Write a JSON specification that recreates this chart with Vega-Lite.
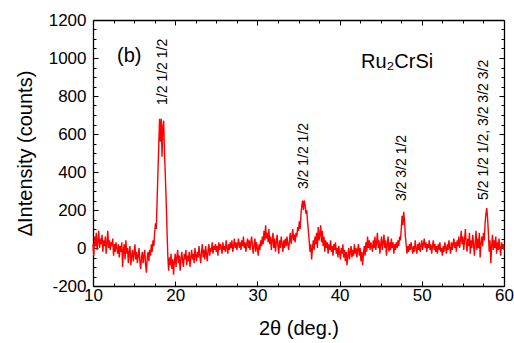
{
  "$schema": "https://vega.github.io/schema/vega-lite/v6.json",
  "width": 411,
  "height": 266,
  "autosize": {"type": "none"},
  "padding": {"left": 93, "top": 20, "right": 10, "bottom": 57},
  "config": {
    "view": {"stroke": null},
    "font": "Liberation Sans",
    "axis": {
      "domainColor": "black",
      "domainWidth": 1.3,
      "tickColor": "black",
      "tickWidth": 1,
      "grid": false,
      "labelFont": "Liberation Sans",
      "labelFontSize": 17,
      "labelColor": "black",
      "titleFont": "Liberation Sans",
      "titleFontSize": 20,
      "titleFontWeight": "normal",
      "titleColor": "black"
    }
  },
  "datasets": {
    "scan": [
      {"t":10.0,"i":20},{"t":10.1,"i":-40},{"t":10.2,"i":60},{"t":10.3,"i":10},{"t":10.4,"i":80},{"t":10.5,"i":-10},{"t":10.6,"i":40},{"t":10.7,"i":90},{"t":10.8,"i":0},{"t":10.9,"i":50},
      {"t":11.0,"i":20},{"t":11.1,"i":70},{"t":11.2,"i":-20},{"t":11.3,"i":40},{"t":11.4,"i":10},{"t":11.5,"i":60},{"t":11.6,"i":-30},{"t":11.7,"i":30},{"t":11.8,"i":90},{"t":11.9,"i":0},
      {"t":12.0,"i":40},{"t":12.1,"i":-10},{"t":12.2,"i":30},{"t":12.3,"i":10},{"t":12.4,"i":50},{"t":12.5,"i":-40},{"t":12.6,"i":20},{"t":12.7,"i":-20},{"t":12.8,"i":30},{"t":12.9,"i":0},
      {"t":13.0,"i":-30},{"t":13.1,"i":20},{"t":13.2,"i":-50},{"t":13.3,"i":10},{"t":13.4,"i":-20},{"t":13.5,"i":30},{"t":13.6,"i":-100},{"t":13.7,"i":-10},{"t":13.8,"i":20},{"t":13.9,"i":-60},
      {"t":14.0,"i":40},{"t":14.1,"i":-30},{"t":14.2,"i":0},{"t":14.3,"i":-80},{"t":14.4,"i":-20},{"t":14.5,"i":10},{"t":14.6,"i":-90},{"t":14.7,"i":-40},{"t":14.8,"i":-10},{"t":14.9,"i":-70},
      {"t":15.0,"i":-30},{"t":15.1,"i":20},{"t":15.2,"i":-60},{"t":15.3,"i":-20},{"t":15.4,"i":-80},{"t":15.5,"i":-40},{"t":15.6,"i":0},{"t":15.7,"i":-70},{"t":15.8,"i":-110},{"t":15.9,"i":-50},
      {"t":16.0,"i":-20},{"t":16.1,"i":-80},{"t":16.2,"i":-40},{"t":16.3,"i":-10},{"t":16.4,"i":-90},{"t":16.5,"i":-130},{"t":16.6,"i":-50},{"t":16.7,"i":-20},{"t":16.8,"i":-70},{"t":16.9,"i":-10},
      {"t":17.0,"i":-40},{"t":17.1,"i":20},{"t":17.2,"i":-20},{"t":17.3,"i":40},{"t":17.4,"i":10},{"t":17.5,"i":80},{"t":17.6,"i":130},{"t":17.7,"i":100},{"t":17.8,"i":250},{"t":17.9,"i":400},
      {"t":18.0,"i":540},{"t":18.1,"i":680},{"t":18.2,"i":560},{"t":18.3,"i":680},{"t":18.4,"i":480},{"t":18.5,"i":640},{"t":18.6,"i":670},{"t":18.7,"i":500},{"t":18.8,"i":380},{"t":18.9,"i":250},
      {"t":19.0,"i":100},{"t":19.1,"i":-40},{"t":19.2,"i":-120},{"t":19.3,"i":-50},{"t":19.4,"i":-90},{"t":19.5,"i":-30},{"t":19.6,"i":-110},{"t":19.7,"i":-60},{"t":19.8,"i":-140},{"t":19.9,"i":-70},
      {"t":20.0,"i":-30},{"t":20.1,"i":-100},{"t":20.2,"i":-50},{"t":20.3,"i":-10},{"t":20.4,"i":-80},{"t":20.5,"i":-40},{"t":20.6,"i":-120},{"t":20.7,"i":-60},{"t":20.8,"i":-20},{"t":20.9,"i":-70},
      {"t":21.0,"i":-100},{"t":21.1,"i":-30},{"t":21.2,"i":-60},{"t":21.3,"i":-10},{"t":21.4,"i":-90},{"t":21.5,"i":-40},{"t":21.6,"i":-70},{"t":21.7,"i":-20},{"t":21.8,"i":-100},{"t":21.9,"i":-50},
      {"t":22.0,"i":-10},{"t":22.1,"i":-60},{"t":22.2,"i":-30},{"t":22.3,"i":-80},{"t":22.4,"i":0},{"t":22.5,"i":-40},{"t":22.6,"i":-70},{"t":22.7,"i":-20},{"t":22.8,"i":-50},{"t":22.9,"i":10},
      {"t":23.0,"i":-40},{"t":23.1,"i":-80},{"t":23.2,"i":-20},{"t":23.3,"i":20},{"t":23.4,"i":-50},{"t":23.5,"i":-10},{"t":23.6,"i":-60},{"t":23.7,"i":10},{"t":23.8,"i":-30},{"t":23.9,"i":-70},
      {"t":24.0,"i":-10},{"t":24.1,"i":20},{"t":24.2,"i":-40},{"t":24.3,"i":0},{"t":24.4,"i":-20},{"t":24.5,"i":30},{"t":24.6,"i":-30},{"t":24.7,"i":10},{"t":24.8,"i":-10},{"t":24.9,"i":20},
      {"t":25.0,"i":-20},{"t":25.1,"i":10},{"t":25.2,"i":-40},{"t":25.3,"i":30},{"t":25.4,"i":-10},{"t":25.5,"i":20},{"t":25.6,"i":0},{"t":25.7,"i":-30},{"t":25.8,"i":30},{"t":25.9,"i":-10},
      {"t":26.0,"i":10},{"t":26.1,"i":-20},{"t":26.2,"i":40},{"t":26.3,"i":0},{"t":26.4,"i":-30},{"t":26.5,"i":20},{"t":26.6,"i":-10},{"t":26.7,"i":30},{"t":26.8,"i":0},{"t":26.9,"i":40},
      {"t":27.0,"i":-20},{"t":27.1,"i":10},{"t":27.2,"i":50},{"t":27.3,"i":0},{"t":27.4,"i":30},{"t":27.5,"i":-10},{"t":27.6,"i":20},{"t":27.7,"i":50},{"t":27.8,"i":0},{"t":27.9,"i":30},
      {"t":28.0,"i":-10},{"t":28.1,"i":40},{"t":28.2,"i":10},{"t":28.3,"i":60},{"t":28.4,"i":0},{"t":28.5,"i":30},{"t":28.6,"i":-20},{"t":28.7,"i":20},{"t":28.8,"i":50},{"t":28.9,"i":0},
      {"t":29.0,"i":40},{"t":29.1,"i":-10},{"t":29.2,"i":30},{"t":29.3,"i":60},{"t":29.4,"i":10},{"t":29.5,"i":-30},{"t":29.6,"i":20},{"t":29.7,"i":50},{"t":29.8,"i":-20},{"t":29.9,"i":30},
      {"t":30.0,"i":0},{"t":30.1,"i":-40},{"t":30.2,"i":20},{"t":30.3,"i":-10},{"t":30.4,"i":40},{"t":30.5,"i":10},{"t":30.6,"i":60},{"t":30.7,"i":20},{"t":30.8,"i":90},{"t":30.9,"i":40},
      {"t":31.0,"i":120},{"t":31.1,"i":50},{"t":31.2,"i":80},{"t":31.3,"i":30},{"t":31.4,"i":100},{"t":31.5,"i":20},{"t":31.6,"i":60},{"t":31.7,"i":-10},{"t":31.8,"i":40},{"t":31.9,"i":80},
      {"t":32.0,"i":0},{"t":32.1,"i":50},{"t":32.2,"i":-20},{"t":32.3,"i":30},{"t":32.4,"i":70},{"t":32.5,"i":10},{"t":32.6,"i":-30},{"t":32.7,"i":40},{"t":32.8,"i":0},{"t":32.9,"i":60},
      {"t":33.0,"i":20},{"t":33.1,"i":-20},{"t":33.2,"i":40},{"t":33.3,"i":0},{"t":33.4,"i":50},{"t":33.5,"i":10},{"t":33.6,"i":60},{"t":33.7,"i":20},{"t":33.8,"i":-10},{"t":33.9,"i":40},
      {"t":34.0,"i":80},{"t":34.1,"i":20},{"t":34.2,"i":60},{"t":34.3,"i":100},{"t":34.4,"i":40},{"t":34.5,"i":70},{"t":34.6,"i":30},{"t":34.7,"i":80},{"t":34.8,"i":60},{"t":34.9,"i":110},
      {"t":35.0,"i":90},{"t":35.1,"i":140},{"t":35.2,"i":100},{"t":35.3,"i":180},{"t":35.4,"i":220},{"t":35.5,"i":250},{"t":35.6,"i":200},{"t":35.7,"i":250},{"t":35.8,"i":230},{"t":35.9,"i":180},
      {"t":36.0,"i":200},{"t":36.1,"i":140},{"t":36.2,"i":90},{"t":36.3,"i":40},{"t":36.4,"i":-20},{"t":36.5,"i":20},{"t":36.6,"i":-60},{"t":36.7,"i":0},{"t":36.8,"i":40},{"t":36.9,"i":-10},
      {"t":37.0,"i":60},{"t":37.1,"i":20},{"t":37.2,"i":80},{"t":37.3,"i":0},{"t":37.4,"i":110},{"t":37.5,"i":40},{"t":37.6,"i":70},{"t":37.7,"i":120},{"t":37.8,"i":30},{"t":37.9,"i":90},
      {"t":38.0,"i":10},{"t":38.1,"i":60},{"t":38.2,"i":-20},{"t":38.3,"i":40},{"t":38.4,"i":0},{"t":38.5,"i":30},{"t":38.6,"i":-30},{"t":38.7,"i":20},{"t":38.8,"i":-10},{"t":38.9,"i":40},
      {"t":39.0,"i":-20},{"t":39.1,"i":10},{"t":39.2,"i":-40},{"t":39.3,"i":20},{"t":39.4,"i":-10},{"t":39.5,"i":30},{"t":39.6,"i":-30},{"t":39.7,"i":0},{"t":39.8,"i":-50},{"t":39.9,"i":10},
      {"t":40.0,"i":-20},{"t":40.1,"i":-60},{"t":40.2,"i":0},{"t":40.3,"i":-30},{"t":40.4,"i":20},{"t":40.5,"i":-50},{"t":40.6,"i":-10},{"t":40.7,"i":-70},{"t":40.8,"i":-20},{"t":40.9,"i":-90},
      {"t":41.0,"i":-40},{"t":41.1,"i":0},{"t":41.2,"i":-60},{"t":41.3,"i":-20},{"t":41.4,"i":10},{"t":41.5,"i":-50},{"t":41.6,"i":-10},{"t":41.7,"i":-40},{"t":41.8,"i":20},{"t":41.9,"i":-30},
      {"t":42.0,"i":0},{"t":42.1,"i":-50},{"t":42.2,"i":-10},{"t":42.3,"i":20},{"t":42.4,"i":-40},{"t":42.5,"i":0},{"t":42.6,"i":-70},{"t":42.7,"i":-20},{"t":42.8,"i":-90},{"t":42.9,"i":-30},
      {"t":43.0,"i":10},{"t":43.1,"i":-40},{"t":43.2,"i":30},{"t":43.3,"i":-20},{"t":43.4,"i":60},{"t":43.5,"i":0},{"t":43.6,"i":40},{"t":43.7,"i":-10},{"t":43.8,"i":30},{"t":43.9,"i":10},
      {"t":44.0,"i":-20},{"t":44.1,"i":40},{"t":44.2,"i":0},{"t":44.3,"i":60},{"t":44.4,"i":-10},{"t":44.5,"i":30},{"t":44.6,"i":80},{"t":44.7,"i":0},{"t":44.8,"i":40},{"t":44.9,"i":-30},
      {"t":45.0,"i":20},{"t":45.1,"i":60},{"t":45.2,"i":-10},{"t":45.3,"i":30},{"t":45.4,"i":70},{"t":45.5,"i":0},{"t":45.6,"i":40},{"t":45.7,"i":-40},{"t":45.8,"i":20},{"t":45.9,"i":60},
      {"t":46.0,"i":-20},{"t":46.1,"i":30},{"t":46.2,"i":-10},{"t":46.3,"i":50},{"t":46.4,"i":0},{"t":46.5,"i":30},{"t":46.6,"i":-30},{"t":46.7,"i":20},{"t":46.8,"i":-10},{"t":46.9,"i":30},
      {"t":47.0,"i":0},{"t":47.1,"i":40},{"t":47.2,"i":10},{"t":47.3,"i":60},{"t":47.4,"i":40},{"t":47.5,"i":100},{"t":47.6,"i":170},{"t":47.7,"i":120},{"t":47.8,"i":190},{"t":47.9,"i":140},
      {"t":48.0,"i":60},{"t":48.1,"i":20},{"t":48.2,"i":-30},{"t":48.3,"i":10},{"t":48.4,"i":-20},{"t":48.5,"i":20},{"t":48.6,"i":-10},{"t":48.7,"i":30},{"t":48.8,"i":0},{"t":48.9,"i":-30},
      {"t":49.0,"i":10},{"t":49.1,"i":-20},{"t":49.2,"i":40},{"t":49.3,"i":0},{"t":49.4,"i":-30},{"t":49.5,"i":20},{"t":49.6,"i":-10},{"t":49.7,"i":30},{"t":49.8,"i":-20},{"t":49.9,"i":10},
      {"t":50.0,"i":40},{"t":50.1,"i":-10},{"t":50.2,"i":20},{"t":50.3,"i":50},{"t":50.4,"i":0},{"t":50.5,"i":30},{"t":50.6,"i":-20},{"t":50.7,"i":20},{"t":50.8,"i":0},{"t":50.9,"i":40},
      {"t":51.0,"i":-10},{"t":51.1,"i":20},{"t":51.2,"i":-30},{"t":51.3,"i":10},{"t":51.4,"i":40},{"t":51.5,"i":-10},{"t":51.6,"i":20},{"t":51.7,"i":-20},{"t":51.8,"i":10},{"t":51.9,"i":-30},
      {"t":52.0,"i":20},{"t":52.1,"i":-10},{"t":52.2,"i":30},{"t":52.3,"i":-20},{"t":52.4,"i":0},{"t":52.5,"i":-40},{"t":52.6,"i":10},{"t":52.7,"i":-20},{"t":52.8,"i":30},{"t":52.9,"i":0},
      {"t":53.0,"i":-30},{"t":53.1,"i":20},{"t":53.2,"i":-10},{"t":53.3,"i":40},{"t":53.4,"i":0},{"t":53.5,"i":-30},{"t":53.6,"i":30},{"t":53.7,"i":-10},{"t":53.8,"i":20},{"t":53.9,"i":50},
      {"t":54.0,"i":0},{"t":54.1,"i":30},{"t":54.2,"i":-20},{"t":54.3,"i":40},{"t":54.4,"i":10},{"t":54.5,"i":60},{"t":54.6,"i":0},{"t":54.7,"i":40},{"t":54.8,"i":90},{"t":54.9,"i":20},
      {"t":55.0,"i":60},{"t":55.1,"i":-10},{"t":55.2,"i":40},{"t":55.3,"i":100},{"t":55.4,"i":30},{"t":55.5,"i":-20},{"t":55.6,"i":50},{"t":55.7,"i":10},{"t":55.8,"i":80},{"t":55.9,"i":-30},
      {"t":56.0,"i":40},{"t":56.1,"i":0},{"t":56.2,"i":70},{"t":56.3,"i":20},{"t":56.4,"i":-40},{"t":56.5,"i":30},{"t":56.6,"i":90},{"t":56.7,"i":-10},{"t":56.8,"i":50},{"t":56.9,"i":0},
      {"t":57.0,"i":80},{"t":57.1,"i":-50},{"t":57.2,"i":20},{"t":57.3,"i":60},{"t":57.4,"i":10},{"t":57.5,"i":80},{"t":57.6,"i":40},{"t":57.7,"i":130},{"t":57.8,"i":180},{"t":57.9,"i":210},
      {"t":58.0,"i":160},{"t":58.1,"i":80},{"t":58.2,"i":-20},{"t":58.3,"i":40},{"t":58.4,"i":-80},{"t":58.5,"i":10},{"t":58.6,"i":70},{"t":58.7,"i":-10},{"t":58.8,"i":40},{"t":58.9,"i":0},
      {"t":59.0,"i":60},{"t":59.1,"i":-30},{"t":59.2,"i":30},{"t":59.3,"i":-10},{"t":59.4,"i":50},{"t":59.5,"i":0},{"t":59.6,"i":-40},{"t":59.7,"i":30},{"t":59.8,"i":0},{"t":59.9,"i":20},
      {"t":60.0,"i":-10}
    ],
    "peaks": [
      {"t":18.5,"i":753,"label":"1/2 1/2 1/2"},
      {"t":35.67,"i":310,"label":"3/2 1/2 1/2"},
      {"t":47.6,"i":247,"label":"3/2 3/2 1/2"},
      {"t":57.57,"i":253,"label":"5/2 1/2 1/2, 3/2 3/2 3/2"}
    ],
    "notes": [
      {"t":12.92,"i":979,"label":"(b)","size":20},
      {"t":42.6,"i":947,"label":"Ru₂CrSi","size":20}
    ]
  },
  "layer": [
    {
      "data": {"name": "scan"},
      "mark": {"type": "line", "color": "#ff0000", "strokeWidth": 1.4},
      "encoding": {
        "x": {
          "field": "t", "type": "quantitative",
          "scale": {"domain": [10, 60], "nice": false, "zero": false},
          "axis": {
            "orient": "bottom",
            "title": "2θ (deg.)",
            "titleY": 42, "titleBaseline": "middle",
            "values": [10,12.5,15,17.5,20,22.5,25,27.5,30,32.5,35,37.5,40,42.5,45,47.5,50,52.5,55,57.5,60],
            "labelExpr": "datum.value % 10 === 0 ? '' + datum.value : ''",
            "tickSize": {"condition": {"test": "datum.value % 10 === 0", "value": -5}, "value": -3},
            "labelPadding": 6,
            "labelFlush": false,
            "labelOverlap": false
          }
        },
        "y": {
          "field": "i", "type": "quantitative",
          "scale": {"domain": [-200, 1200], "nice": false, "zero": false},
          "axis": {
            "orient": "left",
            "title": "ΔIntensity (counts)",
            "titleX": -68, "titleY": 133, "titleAngle": 270,
            "titleAlign": "center", "titleBaseline": "middle",
            "values": [-200,-150,-100,-50,0,50,100,150,200,250,300,350,400,450,500,550,600,650,700,750,800,850,900,950,1000,1050,1100,1150,1200],
            "labelExpr": "datum.value % 200 === 0 ? '' + datum.value : ''",
            "tickSize": {"condition": {"test": "datum.value % 200 === 0", "value": -5}, "value": -3},
            "labelPadding": 12,
            "labelFlush": false,
            "labelOverlap": false
          }
        }
      }
    },
    {
      "data": {"name": "peaks"},
      "mark": {"type": "text", "angle": 270, "align": "left", "baseline": "middle", "fontSize": 14, "font": "Liberation Sans", "color": "black"},
      "encoding": {
        "x": {
          "field": "t", "type": "quantitative",
          "scale": {"domain": [10, 60], "nice": false, "zero": false},
          "axis": {
            "orient": "top", "title": null, "labels": false,
            "values": [10,12.5,15,17.5,20,22.5,25,27.5,30,32.5,35,37.5,40,42.5,45,47.5,50,52.5,55,57.5,60],
            "tickSize": {"condition": {"test": "datum.value % 10 === 0", "value": -5}, "value": -3}
          }
        },
        "y": {
          "field": "i", "type": "quantitative",
          "scale": {"domain": [-200, 1200], "nice": false, "zero": false},
          "axis": {
            "orient": "right", "title": null, "labels": false,
            "values": [-200,-150,-100,-50,0,50,100,150,200,250,300,350,400,450,500,550,600,650,700,750,800,850,900,950,1000,1050,1100,1150,1200],
            "tickSize": {"condition": {"test": "datum.value % 200 === 0", "value": -5}, "value": -3}
          }
        },
        "text": {"field": "label"}
      }
    },
    {
      "data": {"name": "notes"},
      "mark": {"type": "text", "align": "left", "baseline": "alphabetic", "font": "Liberation Sans", "color": "black"},
      "encoding": {
        "x": {"field": "t", "type": "quantitative", "axis": null},
        "y": {"field": "i", "type": "quantitative", "axis": null},
        "size": {"field": "size", "type": "quantitative", "scale": null, "legend": null},
        "text": {"field": "label"}
      }
    }
  ],
  "resolve": {"axis": {"x": "independent", "y": "independent"}}
}
